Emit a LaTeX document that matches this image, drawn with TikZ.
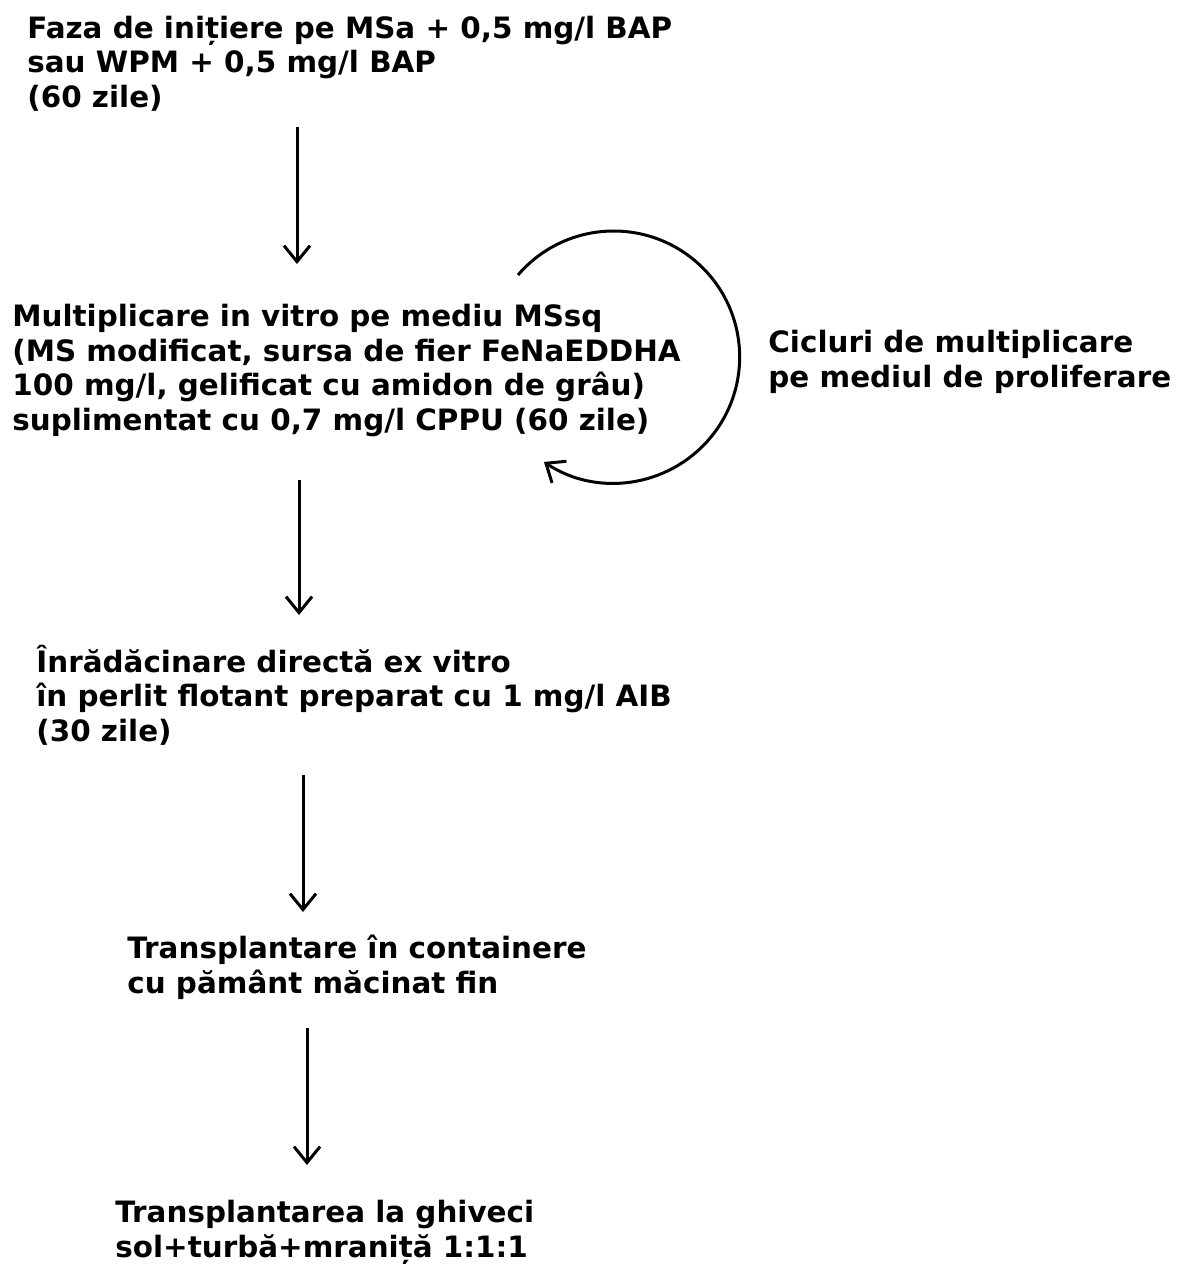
\documentclass[tikz,border=0pt]{standalone}
\usepackage{fontspec}
\setmainfont{DejaVu Sans}
\usetikzlibrary{arrows.meta,calc}
\begin{document}
\begin{tikzpicture}[x=0.5pt,y=-0.5pt,
  txt/.style={anchor=base west,inner sep=0pt,align=left,
    font=\fontsize{14.7pt}{17.25pt}\selectfont\bfseries},
  flow/.style={line width=1.5pt,-{Straight Barb[length=8pt,width=13pt]}}]
\useasboundingbox (0,0) rectangle (1182,1264);

% each node is placed by the baseline of its last line
\node[txt] (init) at (27,107) {Faza de inițiere pe MSa + 0,5 mg/l BAP\\sau WPM + 0,5 mg/l BAP\\(60 zile)};
\node[txt] (mult) at (12,430) {Multiplicare in vitro pe mediu MSsq\\(MS modificat, sursa de fier FeNaEDDHA\\100 mg/l, gelificat cu amidon de grâu)\\suplimentat cu 0,7 mg/l CPPU (60 zile)};
\node[txt] (cycle) at (768,387) {Cicluri de multiplicare\\pe mediul de proliferare};
\node[txt] (root) at (36,741) {Înrădăcinare directă ex vitro\\în perlit flotant preparat cu 1 mg/l AIB\\(30 zile)};
\node[txt] (cont) at (127,993) {Transplantare în containere\\cu pământ măcinat fin};
\node[txt] (pots) at (115,1257) {Transplantarea la ghiveci\\sol+turbă+mraniță 1:1:1};

\draw[flow] ($(init.base west)+(270,20)$) -- ($(mult.base west)+(285,-166)$);
\draw[flow] ($(mult.base west)+(287,50)$) -- ($(root.base west)+(263,-126)$);
\draw[flow] ($(root.base west)+(267,34)$) -- ($(cont.base west)+(176,-81)$);
\draw[flow] ($(cont.base west)+(180,35)$) -- ($(pots.base west)+(192,-92)$);

% proliferation loop around the multiplication step
\draw[flow] ($(mult.base west)+(506,-155)$) arc[start angle=-139.4,end angle=123.6,radius=126];
\end{tikzpicture}
\end{document}
